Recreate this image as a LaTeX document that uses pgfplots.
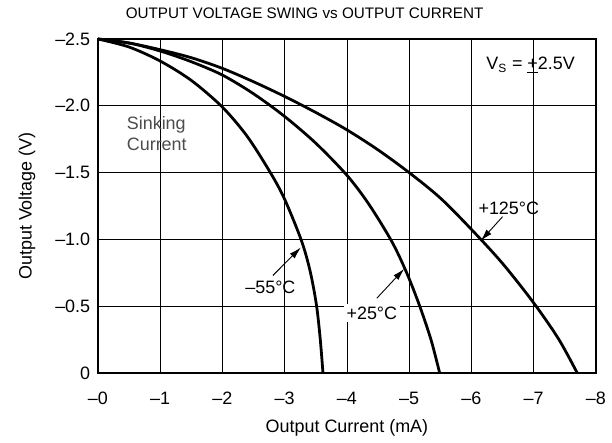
\documentclass[border=0pt]{standalone}
\usepackage{pgfplots}
\pgfplotsset{compat=1.18}
\usepackage{fontspec}
\setmainfont{Liberation Sans}
\usetikzlibrary{arrows.meta}
\begin{document}
\begin{tikzpicture}
\fontsize{12}{14}\selectfont
\begin{axis}[
  scale only axis,
  width=332bp, height=222.7bp,
  xmin=-8, xmax=0, ymin=-2.5, ymax=0,
  x dir=reverse, y dir=reverse,
  xtick={0,-1,-2,-3,-4,-5,-6,-7,-8},
  xticklabels={–0,–1,–2,–3,–4,–5,–6,–7,–8},
  ytick={0,-0.5,-1,-1.5,-2,-2.5},
  yticklabels={0,–0.5,–1.0,–1.5,–2.0,–2.5},
  /pgf/number format/assume math mode=true,
  major tick length=0pt,
  grid=major,
  major grid style={black, line width=0.5bp},
  axis line style={black, line width=1.4bp},
  tick label style={font=\fontsize{12}{14}\selectfont},
  xticklabel style={yshift=-8.5bp},
  yticklabel style={xshift=-1bp},
  label style={font=\fontsize{12}{14}\selectfont},
  xlabel={Output Current (mA)},
  ylabel={Output Voltage (V)},
  xlabel style={at={(axis description cs:0.5,-0.165)}, anchor=center},
  ylabel style={at={(axis description cs:-0.1425,0.5)}, anchor=center},
  title={OUTPUT VOLTAGE SWING vs OUTPUT CURRENT},
  title style={font=\fontsize{10.2}{12}\selectfont, at={(axis description cs:0.415,1)}, anchor=center, yshift=11.3bp},
  clip=false,
]
% -55 C
\addplot[black, line width=1.85bp, smooth] coordinates {
(0,-2.5) (-0.5,-2.44) (-1,-2.335) (-1.5,-2.19) (-2,-1.99) (-2.4,-1.77)
(-2.77,-1.5) (-3,-1.30) (-3.27,-0.99) (-3.41,-0.76)
(-3.51,-0.51) (-3.57,-0.26) (-3.615,0)};
% +25 C
\addplot[black, line width=1.85bp, smooth] coordinates {
(0,-2.5) (-0.5,-2.47) (-1,-2.41) (-1.5,-2.33) (-2,-2.23) (-2.5,-2.09)
(-3,-1.92) (-3.5,-1.72) (-4,-1.48) (-4.35,-1.265) (-4.72,-0.985)
(-4.96,-0.75) (-5.17,-0.5) (-5.35,-0.25) (-5.49,0)};
% +125 C
\addplot[black, line width=1.85bp, smooth] coordinates {
(0,-2.5) (-0.5,-2.47) (-1,-2.42) (-1.5,-2.36) (-2,-2.28) (-2.5,-2.18)
(-3,-2.07) (-3.5,-1.95) (-4,-1.82) (-4.5,-1.67) (-5,-1.5) (-5.5,-1.31)
(-6,-1.075) (-6.5,-0.82) (-7,-0.525) (-7.4,-0.255) (-7.7,0)};

\draw[-{Latex[length=8bp,width=4.5bp]}, line width=0.6bp] (axis cs:-2.81,-0.73) -- (axis cs:-3.26,-0.94);
\draw[-{Latex[length=8bp,width=4.5bp]}, line width=0.6bp] (axis cs:-4.48,-0.56) -- (axis cs:-4.92,-0.78);
\draw[-{Latex[length=8bp,width=4.5bp]}, line width=0.6bp] (axis cs:-6.5,-1.17) -- (axis cs:-6.15,-0.99);

\node[inner sep=1bp] at (axis cs:-2.77,-0.645) {–55°C};
\node[fill=white, inner sep=2bp] at (axis cs:-4.40,-0.45) {+25°C};
\node[inner sep=1bp] at (axis cs:-6.6,-1.23) {+125°C};
\node at (axis cs:-6.95,-2.305) {V\textsubscript{S} = \underline{+}2.5V};
\node[anchor=west, align=left, text=black!70, inner sep=0pt] at (axis cs:-0.46,-1.79) {Sinking\\Current};
\end{axis}
\path (-65.3bp,-45.3bp) rectangle (342.7bp,248.7bp);
\end{tikzpicture}
\end{document}
